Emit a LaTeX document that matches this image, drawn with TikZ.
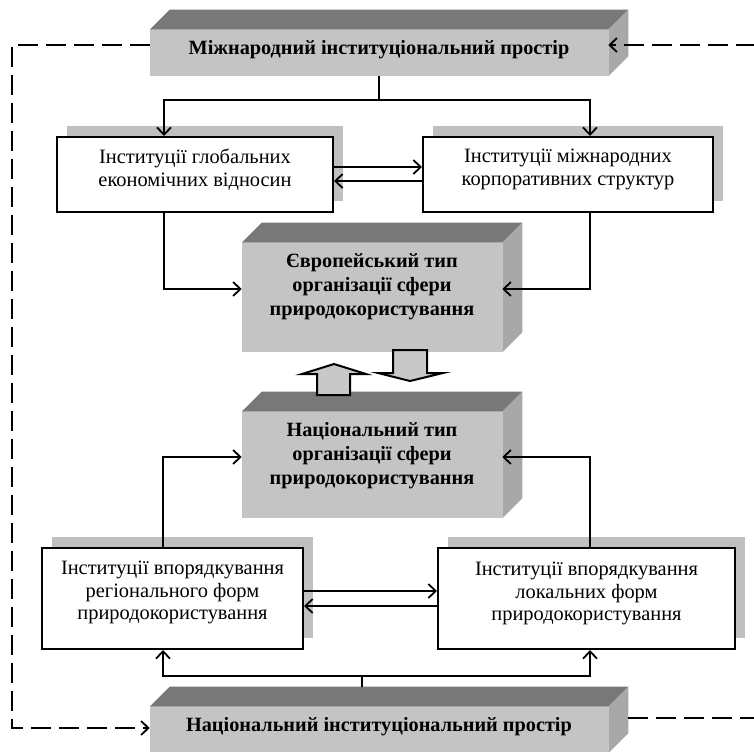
\documentclass[tikz,border=0pt]{standalone}
\usepackage{fontspec}
\setmainfont{Liberation Serif}
\usetikzlibrary{arrows.meta,calc,shadows}
\definecolor{frontgray}{RGB}{196,196,196}
\definecolor{topgray}{RGB}{120,120,120}
\definecolor{sidegray}{RGB}{168,168,168}
\definecolor{shadowgray}{RGB}{192,192,192}
\definecolor{arrowgray}{RGB}{200,200,200}
\newcommand\cubefaces[1]{%
  \fill[topgray] (#1.north west) -- ++(20,-20) -- ($(#1.north east)+(20,-20)$) -- (#1.north east) -- cycle;
  \fill[sidegray] (#1.north east) -- ++(20,-20) -- ($(#1.south east)+(20,-20)$) -- (#1.south east) -- cycle;}
\begin{document}
\begin{tikzpicture}[x=0.75pt,y=-0.75pt,
  wbox/.style={draw=black, line width=1.5pt, fill=white, inner sep=0pt,
    drop shadow={shadow xshift=7.5pt, shadow yshift=8pt, fill=shadowgray, opacity=1}},
  front/.style={fill=frontgray, draw=none, inner sep=0pt},
  link/.style={line width=1.35pt},
  con/.style={line width=1.35pt, -{Straight Barb[length=5.5pt,width=10.5pt]}},
  dashcon/.style={line width=1.4pt, dash pattern=on 15pt off 6pt},
  txt/.style={font=\fontsize{15.3}{17}\selectfont, align=center, inner sep=0pt},
  btxt/.style={font=\fontsize{15.2}{18}\selectfont\bfseries, align=center, inner sep=0pt},
  blockarrow/.style={draw=black, line width=1.5pt, fill=arrowgray, line join=miter}]
\useasboundingbox (0,0) rectangle (754,751);

% 3D boxes
\node[front, minimum width=343.5pt, minimum height=34.5pt] (T) at (379,53) {};
\cubefaces{T}
\node[btxt] (Tt) at ($(T.center)+(0,-3)$) {Міжнародний інституціональний простір};

\node[front, minimum width=195pt, minimum height=81.75pt] (E) at (372,297.5) {};
\cubefaces{E}
\node[btxt] (Et) at ($(E.center)+(0,-11)$) {Європейський тип\\організації сфери\\природокористування};

\node[front, minimum width=195pt, minimum height=79.5pt] (N) at (372,465) {};
\cubefaces{N}
\node[btxt] (Nt) at ($(N.center)+(0,-9)$) {Національний тип\\організації сфери\\природокористування};

\node[front, minimum width=343.5pt, minimum height=34.5pt] (NB) at (379,730) {};
\cubefaces{NB}
\node[btxt] (NBt) at ($(NB.center)+(0,-3)$) {Національний інституціональний простір};

% white boxes
\node[wbox, minimum width=207pt, minimum height=56.25pt] (A) at (195,174.5) {};
\node[txt] (At) at ($(A.center)+(0,-5)$) {Інституції глобальних\\економічних відносин};
\node[wbox, minimum width=217.5pt, minimum height=56.25pt] (B) at (568,174.5) {};
\node[txt] (Bt) at ($(B.center)+(0,-5)$) {Інституції міжнародних\\корпоративних структур};
\node[wbox, minimum width=195.75pt, minimum height=75.75pt] (C) at (172.5,598.5) {};
\node[txt] (Ct) at ($(C.center)+(0,-6)$) {Інституції впорядкування\\регіонального форм\\природокористування};
\node[wbox, minimum width=222.75pt, minimum height=75.75pt] (D) at (586.5,598.5) {};
\node[txt] (Dt) at ($(D.center)+(0,-5)$) {Інституції впорядкування\\локальних форм\\природокористування};

% block arrows
\draw[blockarrow] (317,395) -- (317,374) -- (302,374) -- (334,364) -- (366,374) -- (350,374) -- (350,395) -- cycle;
\draw[blockarrow] (393,350) -- (393,373) -- (378,373) -- (410,381) -- (443,373) -- (427,373) -- (427,350) -- cycle;

% solid connectors
\draw[link] (T.south) -- ++(0,24) coordinate (j1);
\draw[con] (j1) -| ($(A.north west)+(108,0)$);
\draw[con] (j1) -| ($(B.north west)+(168,0)$);
\draw[con] ($(A.east)+(0,-7.5)$) -- ($(B.west)+(0,-7.5)$);
\draw[con] ($(B.west)+(0,6.5)$) -- ($(A.east)+(0,6.5)$);
\draw[con] ($(A.south west)+(108,0)$) |- ($(E.west)+(0,-8.5)$);
\draw[con] ($(B.south west)+(168,0)$) |- ($(E.east)+(0,-8.5)$);
\draw[con] ($(C.north west)+(122,0)$) |- ($(N.west)+(0,-8)$);
\draw[con] ($(D.north west)+(153,0)$) |- ($(N.east)+(0,-8)$);
\draw[con] ($(C.east)+(0,-7.5)$) -- ($(D.west)+(0,-7.5)$);
\draw[con] ($(D.west)+(0,7.5)$) -- ($(C.east)+(0,7.5)$);
\coordinate (j2) at ($(NB.north west)+(212,-31)$);
\draw[link] ($(NB.north west)+(212,-20)$) -- (j2);
\draw[con] (j2) -| ($(C.south west)+(122,0)$);
\draw[con] (j2) -| ($(D.south west)+(153,0)$);

% dashed feedback
\coordinate (dl) at (12,728);
\coordinate (dr1) at (756,45);
\coordinate (dr2) at (756,718);
\coordinate (nbside) at ($(NB.east)+(20,0)$);
\draw[dashcon, -{Straight Barb[length=5.5pt,width=10.5pt]}] ($(T.west)+(0,-8)$) -| (dl) -- (NB.west |- dl);
\draw[dashcon, -{Straight Barb[length=5.5pt,width=10.5pt]}] (dr1) -- (T.east |- dr1);
\draw[dashcon] (nbside |- dr2) -- (dr2);
\end{tikzpicture}
\end{document}
